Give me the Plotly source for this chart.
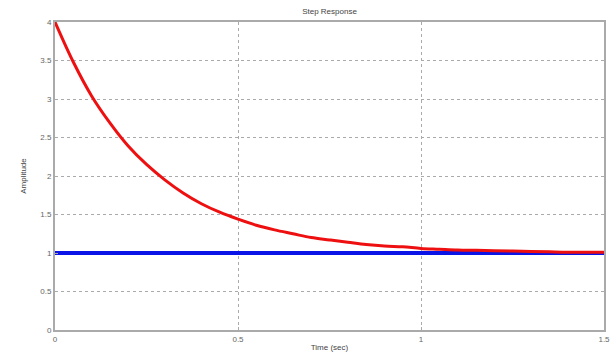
import plotly.graph_objects as go

time_s = [0.0, 0.05, 0.1, 0.15, 0.2, 0.25, 0.3, 0.35, 0.4, 0.45, 0.5, 0.55, 0.6, 0.65, 0.7, 0.75,
          0.8, 0.85, 0.9, 0.95, 1.0, 1.05, 1.1, 1.15, 1.2, 1.25, 1.3, 1.35, 1.4, 1.45, 1.5]
response = [4.0, 3.48, 3.04, 2.69, 2.39, 2.15, 1.95, 1.78, 1.64, 1.53, 1.44, 1.36, 1.30, 1.25, 1.20, 1.17,
            1.14, 1.11, 1.09, 1.08, 1.06, 1.05, 1.04, 1.035, 1.03, 1.025, 1.02, 1.015, 1.01, 1.01, 1.01]
ref_time = [0.0, 1.5]
ref_level = [1.0, 1.0]

x_ticks = [0, 0.5, 1, 1.5]
x_labels = ["0", "0.5", "1", "1.5"]
y_ticks = [0, 0.5, 1, 1.5, 2, 2.5, 3, 3.5, 4]
y_labels = ["0", "0.5", "1", "1.5", "2", "2.5", "3", "3.5", "4"]

FONT = "Liberation Sans, Arial"

fig = go.Figure()
fig.add_trace(go.Scatter(x=ref_time, y=ref_level, mode="lines",
                         line=dict(color="#0a14e6", width=4), showlegend=False))
fig.add_trace(go.Scatter(x=time_s, y=response, mode="lines", line_shape="spline",
                         line=dict(color="#ee1010", width=3), showlegend=False))

axis_common = dict(showline=True, linecolor="#aaaaaa", linewidth=2, mirror=True,
                   showgrid=True, gridcolor="#aaaaaa", griddash="dot", gridwidth=1,
                   zeroline=False, ticks="inside", ticklen=3, tickcolor="#aaaaaa",
                   automargin=False, ticklabeloverflow="allow",
                   tickfont=dict(family=FONT, size=8, color="#666666"))

fig.update_layout(
    width=613, height=355,
    margin=dict(l=55, r=9, t=22, b=25, autoexpand=False),
    paper_bgcolor="white", plot_bgcolor="white",
    title=dict(text="Step Response", x=0.5, xref="paper", xanchor="center",
               yref="container", y=0.977, yanchor="top", pad=dict(t=0),
               automargin=False,
               font=dict(family=FONT, size=8, color="#444444")),
    xaxis=dict(range=[0, 1.5], tickvals=x_ticks, ticktext=x_labels,
               title=dict(text="Time (sec)", standoff=2,
                          font=dict(family=FONT, size=8, color="#444444")),
               **axis_common),
    yaxis=dict(range=[0, 4], tickvals=y_ticks, ticktext=y_labels,
               title=dict(text="Amplitude", standoff=12,
                          font=dict(family=FONT, size=8, color="#444444")),
               **axis_common),
)

fig.write_html("out.html", config={"displayModeBar": False},
               post_script="document.body.style.margin='0';document.body.style.overflow='hidden';")
